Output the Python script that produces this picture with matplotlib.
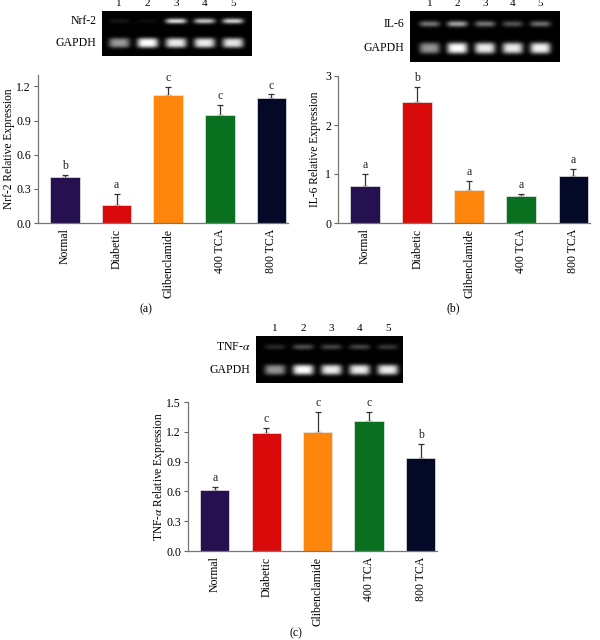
import numpy as np
import matplotlib
matplotlib.use("Agg")
import matplotlib.pyplot as plt
from matplotlib.ticker import FormatStrFormatter, MultipleLocator

plt.rcParams['font.family'] = ['Liberation Serif', 'DejaVu Serif']
plt.rcParams['mathtext.fontset'] = 'stix'

# ---------------- data ----------------
groups = ["Normal", "Diabetic", "Glibenclamide", "400 TCA", "800 TCA"]
colors = ["#261150", "#d90a0a", "#ff860d", "#08701f", "#030926"]
lanes = ["1", "2", "3", "4", "5"]

nrf2_mean = [0.40, 0.155, 1.12, 0.95, 1.10]
nrf2_err = [0.025, 0.10, 0.075, 0.09, 0.03]
nrf2_sig = ["b", "a", "c", "c", "c"]

il6_mean = [0.75, 2.46, 0.67, 0.55, 0.95]
il6_err = [0.25, 0.32, 0.19, 0.05, 0.15]
il6_sig = ["a", "b", "a", "a", "a"]

tnf_mean = [0.61, 1.19, 1.20, 1.31, 0.94]
tnf_err = [0.035, 0.05, 0.20, 0.09, 0.14]
tnf_sig = ["a", "c", "c", "c", "b"]

# gel band intensities (0..1), per lane
nrf2_band = [0.08, 0.05, 0.85, 0.75, 0.80]
il6_band = [0.45, 0.62, 0.45, 0.32, 0.42]
tnf_band = [0.16, 0.30, 0.26, 0.26, 0.20]
gapdh_a = [0.60, 1.00, 0.92, 0.92, 0.90]
gapdh_b = [0.58, 1.00, 0.92, 0.92, 0.95]
gapdh_c = [0.58, 1.00, 0.92, 0.92, 0.92]

W, H = 600, 640
fig = plt.figure(figsize=(W / 100, H / 100), dpi=100)


def fax(x0, y0, x1, y1):
    return fig.add_axes([x0 / W, 1 - y1 / H, (x1 - x0) / W, (y1 - y0) / H])


def bar_panel(box, means, errs, sigs, ylim, step, fmt, ylabel, ylab_x, tag, tagpos):
    ax = fax(*box)
    x = np.arange(len(groups))
    ax.errorbar(x, means, yerr=[np.zeros(len(errs)), errs], fmt='none',
                ecolor='#333333', elinewidth=0.9, capsize=2.2, capthick=0.9, zorder=1)
    ax.bar(x, means, width=0.57, color=colors, edgecolor='#e8e8e8', linewidth=0.5, zorder=2)
    for xi, m, e, s in zip(x, means, errs, sigs):
        ax.annotate(s, (xi, m + e), xytext=(0, 2), textcoords='offset points',
                    ha='center', va='bottom', fontsize=8.5, color='#222222')
    ax.set_xlim(-0.52, 4.32)
    ax.set_ylim(*ylim)
    ax.yaxis.set_major_locator(MultipleLocator(step))
    ax.yaxis.set_major_formatter(FormatStrFormatter(fmt))
    ax.set_xticks(x)
    ax.set_xticklabels(groups, rotation=90, fontsize=8.5)
    ax.tick_params(axis='x', length=0, pad=4)
    ax.tick_params(axis='y', length=3, width=0.8, color='#666666', labelsize=8.5, pad=2)
    for sp in ('top', 'right'):
        ax.spines[sp].set_visible(False)
    for sp in ('left', 'bottom'):
        ax.spines[sp].set_color('#777777')
        ax.spines[sp].set_linewidth(0.9)
    ax.set_ylabel(ylabel, fontsize=8.3, va='center')
    ax.yaxis.set_label_coords((ylab_x - box[0]) / (box[2] - box[0]), 0.5)
    fig.text(tagpos[0] / W, 1 - tagpos[1] / H, tag, ha='center', va='center', fontsize=8.5)
    return ax


def gel(box, target_label, target_band, gapdh_band, xlim, rows):
    ax = fax(*box)
    nx, ny = 300, 100
    xs = np.linspace(xlim[0], xlim[1], nx)
    ys = np.linspace(0, 1, ny)
    X, Y = np.meshgrid(xs, ys)
    img = np.zeros_like(X)
    for i, (t, g) in enumerate(zip(target_band, gapdh_band)):
        c = i + 1
        px = np.exp(-np.abs((X - c) / 0.37) ** 4)
        img += t * px * np.exp(-np.abs((Y - rows[0]) / 0.06) ** 2)
        img += g * px * np.exp(-np.abs((Y - rows[1]) / 0.11) ** 3)
    ax.imshow(np.clip(img, 0, 1), cmap='gray', vmin=0, vmax=1, aspect='auto',
              extent=[xlim[0], xlim[1], 1, 0], interpolation='bilinear')
    ax.set_facecolor('black')
    ax.set_xlim(*xlim)
    ax.set_ylim(1, 0)
    ax.set_xticks([])
    ax.set_yticks([])
    for sp in ax.spines.values():
        sp.set_visible(False)
    for i, l in enumerate(lanes):
        ax.annotate(l, (i + 1, 0), xytext=(0, 2.5), textcoords='offset points',
                    ha='center', va='bottom', fontsize=8, annotation_clip=False)
    ax.annotate(target_label, (xlim[0], rows[0]), xytext=(-4, 0), textcoords='offset points',
                ha='right', va='center', fontsize=8.5, annotation_clip=False)
    ax.annotate("GAPDH", (xlim[0], rows[1]), xytext=(-4, 0), textcoords='offset points',
                ha='right', va='center', fontsize=8.5, annotation_clip=False)


gel((102, 11, 252, 56), "Nrf-2", nrf2_band, gapdh_a, (0.4, 5.66), (0.22, 0.71))
gel((410, 11, 560, 62), "IL-6", il6_band, gapdh_b, (0.3, 5.7), (0.25, 0.73))
gel((256, 336, 403, 383), "TNF-$\\alpha$", tnf_band, gapdh_c, (0.33, 5.53), (0.23, 0.72))

bar_panel((38, 75, 288, 223), nrf2_mean, nrf2_err, nrf2_sig, (0, 1.30), 0.3, '%.1f',
          "Nrf-2 Relative Expression", 9, "(a)", (146, 309))
bar_panel((338, 76, 590, 223), il6_mean, il6_err, il6_sig, (0, 3.0), 1, '%d',
          "IL-6 Relative Expression", 315, "(b)", (453, 308))
bar_panel((188, 402, 437, 551), tnf_mean, tnf_err, tnf_sig, (0, 1.5), 0.3, '%.1f',
          "TNF-$\\alpha$ Relative Expression", 159, "(c)", (296, 633))

fig.savefig("out.png", dpi=100)
